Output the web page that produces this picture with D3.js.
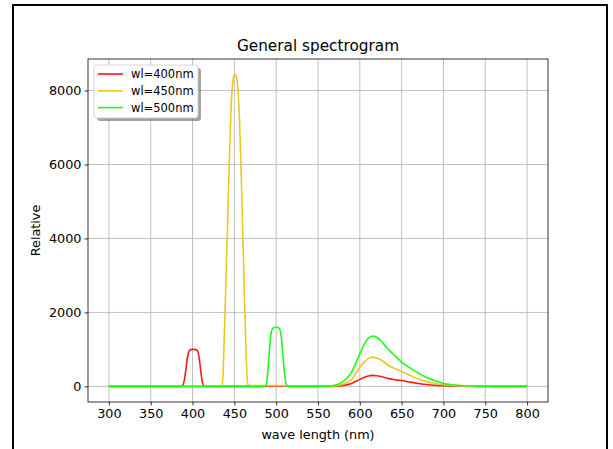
<!DOCTYPE html>
<html>
<head>
<meta charset="utf-8">
<script src="https://cdn.jsdelivr.net/npm/d3@7"></script>
<style>
  body { margin: 0; background: #fff; }
  text { font-family: "DejaVu Sans", sans-serif; fill: #000; }
</style>
</head>
<body>
<script>
// Data
let wavelengths = [
  300,
  386, 388, 390, 392, 394, 396, 398, 400, 402, 404, 406, 408, 410, 412, 414, 416,
  432, 434, 436, 438, 440, 442, 444, 446, 448, 450, 452, 454, 456, 458, 460, 462, 464, 466, 468,
  484, 486, 488, 490, 492, 494, 496, 498, 500, 502, 504, 506, 508, 510, 512, 514, 516,
  540, 560, 570, 580, 590, 600, 605, 610, 615, 620, 625, 630, 635, 640, 645, 650, 660, 670, 680, 690, 700, 710, 720, 740, 760, 780, 800
];
let wl400 = [
  0,
  0, 20, 150, 450, 800, 960, 995, 1000, 1000, 995, 960, 760, 380, 90, 5, 0,
  0, 0, 0, 0, 0, 0, 0, 0, 0, 0, 0, 0, 0, 0, 0, 0, 0, 0, 0,
  0, 0, 0, 15, 15, 15, 15, 15, 15, 15, 15, 15, 15, 15, 15, 5, 0,
  0, 1, 6, 25, 80, 190, 240, 280, 298, 290, 270, 240, 210, 185, 170, 160, 115, 80, 50, 30, 18, 10, 5, 2, 0, 0, 0
];
let wl450 = [
  0,
  0, 0, 0, 0, 0, 0, 0, 0, 0, 0, 0, 0, 0, 0, 0, 0,
  0, 0, 150, 1400, 2900, 4500, 6100, 7500, 8200, 8430, 8400, 8100, 7300, 5900, 4200, 2500, 900, 60, 25,
  25, 25, 25, 25, 25, 25, 25, 25, 25, 25, 25, 25, 25, 25, 25, 10, 0,
  0, 3, 15, 60, 180, 520, 650, 750, 793, 770, 720, 640, 560, 500, 450, 406, 300, 200, 130, 80, 45, 25, 12, 4, 1, 0, 0
];
let wl500 = [
  0,
  0, 0, 0, 0, 0, 0, 0, 0, 0, 0, 0, 0, 0, 0, 0, 0,
  0, 0, 0, 0, 0, 0, 0, 0, 0, 0, 0, 0, 0, 0, 0, 0, 0, 0, 0,
  0, 0, 40, 400, 1000, 1450, 1570, 1595, 1600, 1595, 1560, 1350, 850, 350, 60, 0, 0,
  0, 5, 30, 130, 380, 880, 1130, 1300, 1362, 1330, 1240, 1110, 980, 870, 760, 655, 500, 360, 240, 150, 80, 45, 25, 8, 2, 0, 0
];
let seriesNames = ["wl=400nm", "wl=450nm", "wl=500nm"];
let seriesColors = ["#ff1a1a", "#ecc81c", "#1aff1a"];
let xTicks = [300, 350, 400, 450, 500, 550, 600, 650, 700, 750, 800];
let yTicks = [0, 2000, 4000, 6000, 8000];

function drawChart() {
  let width = 613;
  let height = 449;
  let left = 88, right = 548, top = 59, bottom = 402;

  let svg = d3.select("body")
    .append("svg")
    .attr("width", width)
    .attr("height", height);

  // figure frame
  svg.append("rect")
    .attr("x", 13).attr("y", 5)
    .attr("width", 594).attr("height", 460)
    .attr("fill", "none")
    .attr("stroke", "#000")
    .attr("stroke-width", 2);

  let x = d3.scaleLinear().domain([275, 825]).range([left, right]);
  let y = d3.scaleLinear().domain([-421.5, 8851.5]).range([bottom, top]);

  // grid
  svg.append("g").selectAll("line")
    .data(xTicks)
    .enter().append("line")
    .attr("x1", d => x(d)).attr("x2", d => x(d))
    .attr("y1", top).attr("y2", bottom)
    .attr("stroke", "#b0b0b0").attr("stroke-width", 0.8);
  svg.append("g").selectAll("line")
    .data(yTicks)
    .enter().append("line")
    .attr("x1", left).attr("x2", right)
    .attr("y1", d => y(d)).attr("y2", d => y(d))
    .attr("stroke", "#b0b0b0").attr("stroke-width", 0.8);

  svg.append("clipPath").attr("id", "plot")
    .append("rect")
    .attr("x", left).attr("y", top)
    .attr("width", right - left).attr("height", bottom - top);

  let line = d3.line()
    .x(d => x(d[0]))
    .y(d => y(d[1]))
    .curve(d3.curveMonotoneX);

  let allSeries = [wl400, wl450, wl500];
  allSeries.forEach((values, i) => {
    let pts = wavelengths.map((w, j) => [w, values[j]]);
    svg.append("path")
      .attr("clip-path", "url(#plot)")
      .attr("d", line(pts))
      .attr("fill", "none")
      .attr("stroke", seriesColors[i])
      .attr("stroke-width", 1.6);
  });

  // axes
  let xAxis = d3.axisBottom(x).tickValues(xTicks).tickSize(3.5).tickPadding(3);
  let yAxis = d3.axisLeft(y).tickValues(yTicks).tickSize(3.5).tickPadding(3).tickFormat(d3.format("d"));

  let gx = svg.append("g").attr("transform", `translate(0,${bottom})`).call(xAxis);
  let gy = svg.append("g").attr("transform", `translate(${left},0)`).call(yAxis);
  for (let g of [gx, gy]) {
    g.select(".domain").remove();
    g.selectAll("line").attr("stroke", "#000").attr("stroke-width", 0.8);
    g.selectAll("text").style("font-size", "12.8px").style("font-family", "DejaVu Sans").attr("fill", "#222");
  }

  // spines
  svg.append("rect")
    .attr("x", left).attr("y", top)
    .attr("width", right - left).attr("height", bottom - top)
    .attr("fill", "none")
    .attr("stroke", "#000")
    .attr("stroke-width", 0.8);

  // titles
  svg.append("text")
    .attr("x", (left + right) / 2).attr("y", 51)
    .attr("text-anchor", "middle")
    .style("font-size", "15.3px")
    .text("General spectrogram");
  svg.append("text")
    .attr("x", (left + right) / 2).attr("y", 439)
    .attr("text-anchor", "middle")
    .style("font-size", "12.8px")
    .text("wave length (nm)");
  svg.append("text")
    .attr("transform", `translate(40,${(top + bottom) / 2}) rotate(-90)`)
    .attr("text-anchor", "middle")
    .style("font-size", "12.8px")
    .text("Relative");

  // legend with shadow
  let lg = svg.append("g").attr("transform", "translate(94,65)");
  lg.append("rect")
    .attr("x", 3).attr("y", 3).attr("width", 104).attr("height", 53).attr("rx", 3)
    .attr("fill", "#666").attr("opacity", 0.6);
  lg.append("rect")
    .attr("x", 0).attr("y", 0).attr("width", 104).attr("height", 53).attr("rx", 3)
    .attr("fill", "#fff").attr("stroke", "#ccc").attr("stroke-width", 0.8);
  seriesNames.forEach((name, i) => {
    let row = lg.append("g").attr("transform", `translate(0,${9 + i * 16.8})`);
    row.append("line")
      .attr("x1", 4).attr("x2", 29)
      .attr("stroke", seriesColors[i]).attr("stroke-width", 1.6);
    row.append("text")
      .attr("x", 37).attr("y", 4)
      .style("font-size", "11.5px")
      .text(name);
  });
}

drawChart();
</script>
</body>
</html>
